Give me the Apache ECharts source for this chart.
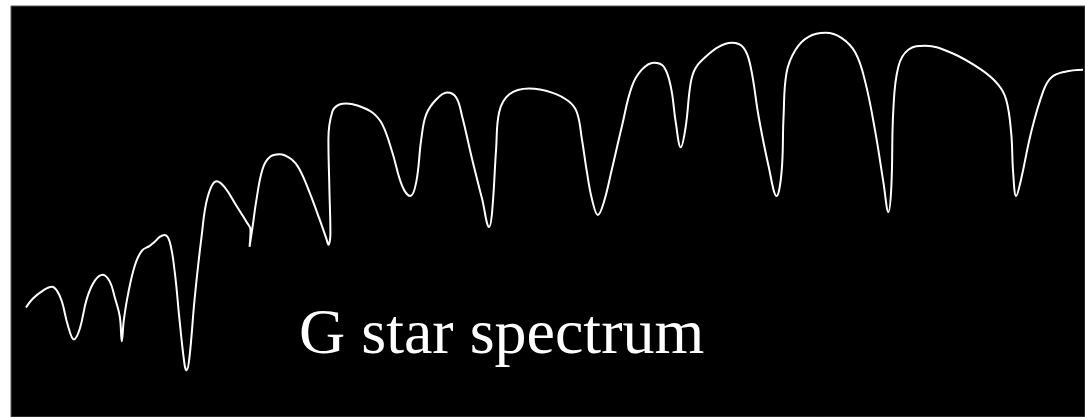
<!DOCTYPE html>
<html>
<head>
<meta charset="utf-8">
<style>
html,body{margin:0;padding:0;background:#fff;}
#chart{width:1085px;height:417px;}
</style>
<script src="https://cdn.jsdelivr.net/npm/echarts@6/dist/echarts.min.js"></script>
</head>
<body>
<div id="chart"></div>
<script>
// wavelength (arbitrary units, left to right)
var wavelength = [26,33,43,52,57,62,68,74,80,87,95,103,110,115,120,122,124,128,135,142,150,155,160,165,170,175,180,185,187,190,195,202,208,217,225,237,247,251,250,253,257,263,270,280,292,300,310,320,327,329,331,330,329,333,340,347,358,373,383,393,403,411,417,422,427,437,448,457,463,473,483,490,493,497,500,510,530,553,570,578,583,588,593,599,605,613,623,633,643,655,665,672,677,682,687,692,697,707,720,733,745,752,760,770,778,783,785,788,797,810,827,843,857,867,877,885,890,893,895,900,910,927,953,983,1000,1008,1013,1015,1018,1023,1033,1045,1053,1067,1085];
// relative flux
var flux = [108,117,125,129,125,114,90,76,87,117,135,141,134,118,99,74,95,120,150,165,170,174,179,181,174,144,94,50,45,60,117,180,219,235,229,210,194,186,169,189,217,247,259,262,257,247,224,197,177,171,182,227,277,305,312,313,311,304,292,264,230,220,234,277,302,317,324,319,300,257,217,189,204,267,304,322,328,324,315,304,277,244,217,201,214,247,290,330,347,354,350,330,294,269,290,334,349,360,370,374,369,350,300,250,220,244,300,344,367,380,384,379,364,334,284,234,204,230,307,350,367,371,364,347,332,317,284,244,220,237,284,325,339,345,347];
var labelText = 'G star spectrum';

var points = wavelength.map(function (w, i) { return [w, flux[i]]; });

var chart = echarts.init(document.getElementById('chart'), null, {renderer: 'canvas'});
chart.setOption({
  backgroundColor: '#ffffff',
  animation: false,
  grid: {
    show: true, left: 11, right: -2, top: 6, bottom: -2,
    backgroundColor: '#000000', borderColor: '#555555', borderWidth: 1
  },
  xAxis: {
    type: 'value', min: 11, max: 1087,
    show: false
  },
  yAxis: {
    type: 'value', min: -2, max: 411,
    show: false
  },
  series: [{
    type: 'line',
    data: points,
    smooth: 0.4,
    showSymbol: false,
    clip: true,
    lineStyle: { color: '#ffffff', width: 2 }
  }],
  graphic: [{
    type: 'text',
    left: 299,
    top: 304,
    style: {
      text: labelText,
      fill: '#ffffff',
      font: '64px "Liberation Serif", "Times New Roman", serif'
    }
  }]
});
</script>
</body>
</html>
